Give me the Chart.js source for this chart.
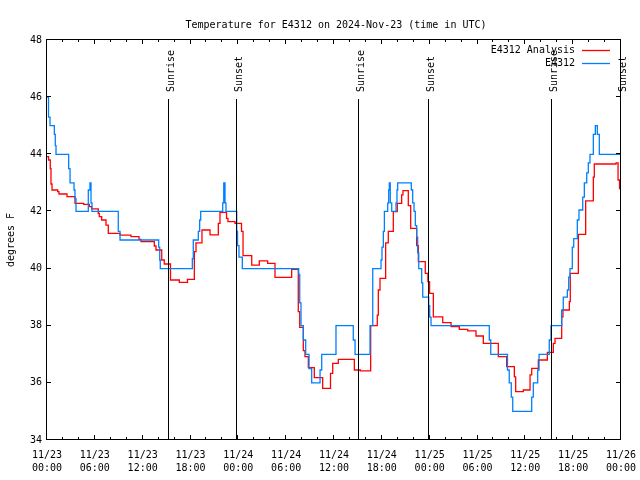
<!DOCTYPE html>
<html><head><meta charset="utf-8">
<script src="https://cdn.jsdelivr.net/npm/chart.js@4.4.1/dist/chart.umd.min.js"></script>
<style>html,body{margin:0;padding:0;background:#fff}canvas{display:block}</style>
</head><body>
<canvas id="c" width="640" height="480"></canvas>
<script>
const titleText = "Temperature for E4312 on 2024-Nov-23 (time in UTC)";
const yAxisLabel = "degrees F";
const seriesNames = ["E4312 Analysis", "E4312"];
const tickDates = ["11/23","11/23","11/23","11/23","11/24","11/24","11/24","11/24","11/25","11/25","11/25","11/25","11/26"];
const tickTimes = ["00:00","06:00","12:00","18:00","00:00","06:00","12:00","18:00","00:00","06:00","12:00","18:00","00:00"];
const sunHours = [15.27, 23.87, 39.17, 47.96, 63.31, 71.97];
const sunLabels = ["Sunrise","Sunset","Sunrise","Sunset","Sunrise","Sunset"];

// hours since 11/23 00:00 UTC; each value holds until the next hour mark
const obsHours = [0,0.19,0.38,0.92,1.04,1.13,2.72,2.89,3.39,3.51,3.64,5.18,5.39,5.52,5.64,8.94,9.16,14.01,14.14,14.21,
  18.23,18.35,18.98,19.15,19.28,22.04,22.17,22.33,22.45,23.8,23.9,24.08,24.5,31.57,31.7,31.86,32.15,32.45,32.87,33.2,
  34.25,34.46,36.25,38.42,38.64,40.52,40.86,41.9,42.02,42.19,42.32,42.74,42.86,42.94,43.06,43.24,43.78,43.9,43.99,
  45.7,45.87,46.04,46.2,46.37,46.5,46.63,47.0,47.13,47.88,48.0,48.17,55.48,55.66,57.76,57.98,58.24,58.42,60.8,61.0,
  61.55,61.72,63.0,63.22,64.56,64.76,65.27,65.44,65.6,65.89,66.07,66.52,66.73,67.2,67.4,67.7,67.9,68.11,68.53,68.78,
  69.03,69.28,71.9];
const obsTemps = [46,45.3,45.0,44.7,44.3,44.0,43.5,43.0,42.75,42.45,42.0,42.75,43.0,42.3,42.0,41.3,41.0,40.75,40.3,40.0,
  40.35,41.0,41.3,41.7,42.0,42.3,43.0,42.3,42.0,41.3,40.8,40.4,40.0,39.8,38.8,38.0,37.5,37.0,36.5,36.0,
  36.45,37.0,38.0,37.5,37.0,38.0,40.0,40.3,40.75,41.3,42.0,42.3,42.75,43.0,42.3,42.0,42.3,42.75,43.0,
  42.75,42.3,42.0,41.5,41.1,40.55,40.0,39.5,39.0,38.7,38.3,38.0,37.5,37.0,36.45,36.0,35.5,35.0,35.5,36.0,
  36.45,37.0,37.5,38.0,38.55,39.0,39.25,39.7,40.0,40.75,41.05,41.7,42.05,42.5,43.0,43.35,43.7,44.0,44.7,45.0,
  44.7,44.0,44.0];

const anaHours = [0,0.19,0.41,0.5,0.63,1.34,1.5,2.51,3.51,4.6,5.31,5.6,6.43,6.56,6.86,7.4,7.69,9.16,10.54,11.54,11.79,
  13.46,13.67,14.39,14.71,15.49,16.6,17.62,18.48,18.69,19.44,20.45,21.49,21.7,22.52,22.7,23.58,24.4,24.59,25.68,26.63,
  27.68,28.6,30.69,31.52,31.7,32.15,32.36,32.78,33.53,34.58,35.56,35.84,36.54,38.55,39.3,40.6,41.43,41.56,41.77,42.48,
  42.81,43.44,43.94,44.49,44.65,45.32,45.62,46.37,46.58,47.45,47.78,47.99,48.46,49.64,50.68,51.72,52.77,53.81,54.73,
  56.61,57.66,58.62,58.79,59.75,60.59,60.8,61.63,62.76,63.51,63.72,64.56,64.72,65.52,65.64,66.65,67.57,68.53,68.65,
  71.38,71.63,71.82,71.9];
const anaTemps = [43.92,43.8,43.5,42.96,42.75,42.69,42.61,42.52,42.28,42.25,42.17,42.09,41.93,41.82,41.7,41.52,41.23,41.17,41.12,41.02,40.94,
  40.79,40.65,40.3,40.16,39.6,39.52,39.62,40.59,40.9,41.35,41.18,41.58,41.97,41.76,41.64,41.58,41.3,40.45,40.12,40.27,
  40.18,39.69,39.97,38.49,37.94,37.13,36.92,36.53,36.18,35.81,36.33,36.68,36.82,36.45,36.42,38.0,38.37,39.25,39.66,40.9,
  41.3,41.99,42.28,42.58,42.73,42.2,41.41,40.8,40.24,39.83,39.54,39.13,38.31,38.11,37.97,37.87,37.82,37.64,37.38,
  36.92,36.57,36.21,35.69,35.75,36.28,36.51,36.8,37.07,37.38,37.56,38.31,38.55,38.84,39.83,41.2,42.37,43.2,43.66,
  43.7,43.1,42.8,42.8];

const FONT = '"DejaVu Sans Mono", monospace';
const RED = '#ff0000', BLUE = 'rgb(0,128,255)';
const toXY = (hs, vs) => hs.map((h, i) => ({x: h, y: vs[i]}));

const decor = {
  id: 'decor',
  afterDraw(chart) {
    const ctx = chart.ctx, a = chart.chartArea;
    const xs = chart.scales.x, ys = chart.scales.y;
    const L = Math.round(a.left) - 0.5, R = Math.round(a.right) - 0.5, T = Math.round(a.top) - 0.5, B = Math.round(a.bottom) - 0.5;
    ctx.save();
    ctx.strokeStyle = '#000'; ctx.lineWidth = 1;
    ctx.beginPath();
    for (let h = 0; h <= 72; h += 2) {
      const x = Math.round(xs.getPixelForValue(h)) - 0.5;
      const len = (h % 6 === 0) ? 4.5 : 2.5;
      ctx.moveTo(x, B); ctx.lineTo(x, B - len);
      ctx.moveTo(x, T); ctx.lineTo(x, T + len);
    }
    for (let v = 34; v <= 48; v += 2) {
      const y = Math.round(ys.getPixelForValue(v)) - 0.5;
      ctx.moveTo(L, y); ctx.lineTo(L + 4.5, y);
      ctx.moveTo(R, y); ctx.lineTo(R - 4.5, y);
    }
    sunHours.forEach(h => {
      const x = Math.round(xs.getPixelForValue(h)) - 0.5;
      ctx.moveTo(x, 99); ctx.lineTo(x, B);
    });
    ctx.stroke();
    ctx.strokeRect(L, T, R - L, B - T);

    ctx.fillStyle = '#000';
    ctx.font = '10px ' + FONT;
    sunHours.forEach((h, i) => {
      const x = Math.round(xs.getPixelForValue(h));
      ctx.save();
      ctx.translate(x + 5, 92);
      ctx.rotate(-Math.PI / 2);
      ctx.textAlign = 'left'; ctx.textBaseline = 'alphabetic';
      ctx.fillText(sunLabels[i], 0, 0);
      ctx.restore();
    });
    ctx.textAlign = 'center'; ctx.textBaseline = 'alphabetic';
    ctx.fillText(titleText, (a.left + a.right) / 2 + 2, 28);
    ctx.save();
    ctx.translate(11, (a.top + a.bottom) / 2);
    ctx.rotate(-Math.PI / 2);
    ctx.textAlign = 'center'; ctx.textBaseline = 'middle';
    ctx.fillText(yAxisLabel, 0, 0);
    ctx.restore();
    const rows = [[seriesNames[0], RED, 50.5], [seriesNames[1], BLUE, 63.5]];
    rows.forEach(([name, col, y]) => {
      ctx.fillStyle = '#000';
      ctx.textAlign = 'right'; ctx.textBaseline = 'middle';
      ctx.fillText(name, 575, y);
      ctx.strokeStyle = col; ctx.lineWidth = 1.3;
      ctx.beginPath(); ctx.moveTo(582, y); ctx.lineTo(610, y); ctx.stroke();
    });
    ctx.restore();
  }
};

new Chart(document.getElementById('c').getContext('2d'), {
  type: 'line',
  data: {
    datasets: [
      {label: seriesNames[1], data: toXY(obsHours, obsTemps), borderColor: BLUE, borderWidth: 1.3,
       stepped: 'before', pointRadius: 0, fill: false, order: 0},
      {label: seriesNames[0], data: toXY(anaHours, anaTemps), borderColor: RED, borderWidth: 1.3,
       stepped: 'before', pointRadius: 0, fill: false, order: 1}
    ]
  },
  options: {
    responsive: false, animation: false, devicePixelRatio: 1,
    layout: {padding: {left: 0, right: 19, top: 40, bottom: 0}},
    plugins: {legend: {display: false}, title: {display: false}, tooltip: {enabled: false}},
    scales: {
      x: {
        type: 'linear', min: 0, max: 72,
        grid: {display: false, drawTicks: false}, border: {display: false},
        ticks: {stepSize: 6, padding: 9, color: '#000', maxRotation: 0, autoSkip: false,
          font: {family: FONT, size: 10, lineHeight: 1.3},
          callback: (v) => { const i = Math.round(v / 6); return [tickDates[i], tickTimes[i]]; }},
        afterFit: (s) => { s.height = 40; s.paddingLeft = 0; s.paddingRight = 0; }
      },
      y: {
        type: 'linear', min: 34, max: 48,
        grid: {display: false, drawTicks: false}, border: {display: false},
        ticks: {stepSize: 2, padding: 5, color: '#000', font: {family: FONT, size: 10}},
        afterFit: (s) => { s.width = 47; s.paddingTop = 0; s.paddingBottom = 0; }
      }
    }
  },
  plugins: [decor]
});
</script>
</body></html>
